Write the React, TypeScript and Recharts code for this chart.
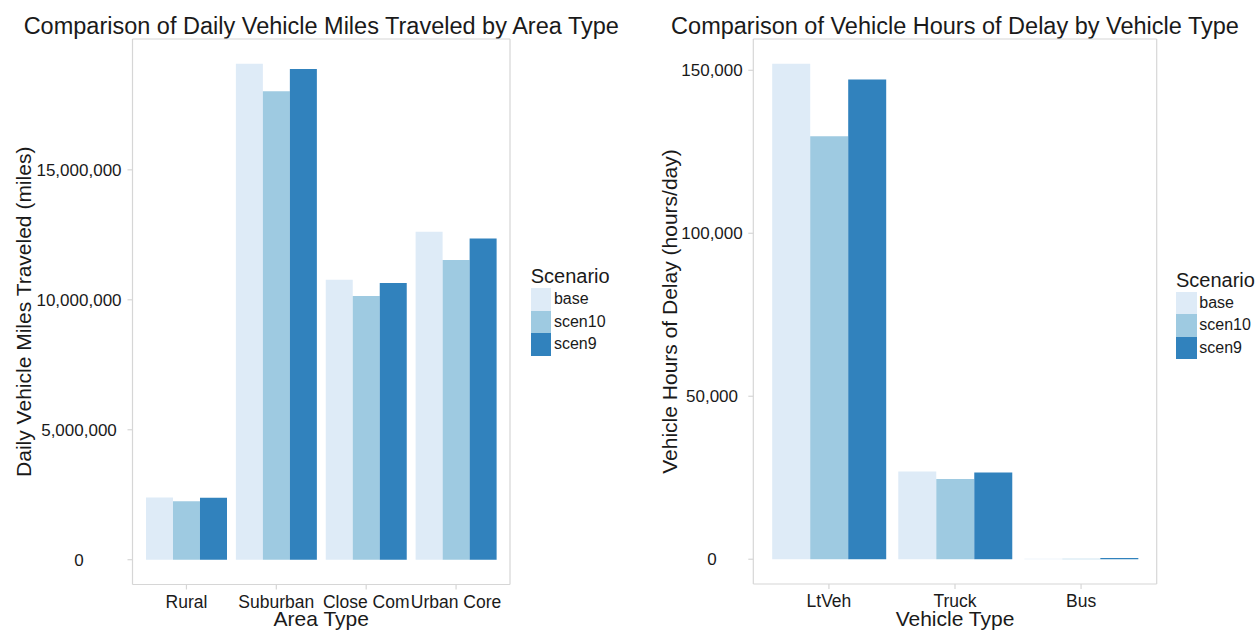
import React from 'react';
import { BarChart, Bar, XAxis, YAxis, CartesianGrid, Legend, Label } from 'recharts';

// ---- shared series ----
const scenarioKeys = ['base', 'scen10', 'scen9'];
const scenarioColors = ['#DEEBF7', '#9ECAE1', '#3182BD'];

// ---- left chart: daily VMT by area type ----
const areaTypes = ['Rural', 'Suburban', 'Close Com', 'Urban Core'];
const vmtBase = [2390000, 19080000, 10770000, 12620000];
const vmtScen10 = [2250000, 18020000, 10150000, 11530000];
const vmtScen9 = [2380000, 18880000, 10650000, 12360000];
const vmtTicks = [0, 5000000, 10000000, 15000000];

// ---- right chart: vehicle hours of delay by vehicle type ----
const vehicleTypes = ['LtVeh', 'Truck', 'Bus'];
const vhdBase = [152000, 26900, 150];
const vhdScen10 = [129800, 24600, 120];
const vhdScen9 = [147200, 26600, 400];
const vhdTicks = [0, 50000, 100000, 150000];

const vmtData = areaTypes.map((c, i) => ({ cat: c, base: vmtBase[i], scen10: vmtScen10[i], scen9: vmtScen9[i] }));
const vhdData = vehicleTypes.map((c, i) => ({ cat: c, base: vhdBase[i], scen10: vhdScen10[i], scen9: vhdScen9[i] }));

const expandDomain = (vals: number[]) => {
  const mx = Math.max(...vals);
  const pad = mx * 0.05;
  return [-pad, mx + pad];
};

const FONT = '"Liberation Sans", Arial, Helvetica, sans-serif';
const TEXT = '#1a1a1a';
const BORDER = '#D6D6D6';

const fmt = (v: number) => v.toLocaleString('en-US');

const makeYTick = (shift: number) => (props: any) => {
  const { x, y, payload } = props;
  return (
    <text x={x - shift} y={y} dy="0.36em" textAnchor="middle" fontSize={17} fontFamily={FONT} fill={TEXT}>
      {fmt(payload.value)}
    </text>
  );
};

const XTick = (props: any) => {
  const { x, y, payload } = props;
  return (
    <text x={x} y={y} dy={16} textAnchor="middle" fontSize={17.5} fontFamily={FONT} fill={TEXT}>
      {payload.value}
    </text>
  );
};

const makeYTitle = (cx: number, text: string) => (props: any) => {
  const vb = props.viewBox || {};
  const cy = (vb.y || 0) + (vb.height || 0) / 2;
  return (
    <text
      x={cx}
      y={cy}
      dy="0.35em"
      transform={`rotate(-90 ${cx} ${cy})`}
      textAnchor="middle"
      fontSize={21}
      fontFamily={FONT}
      fill={TEXT}
    >
      {text}
    </text>
  );
};

const LegendBox = (props: any) => {
  const payload = props.payload || [];
  return (
    <div style={{ fontFamily: FONT, color: TEXT }}>
      <div style={{ fontSize: 20, lineHeight: '20px', height: 20, marginBottom: 2, whiteSpace: 'nowrap' }}>Scenario</div>
      {payload.map((p: any) => (
        <div key={p.value} style={{ display: 'flex', alignItems: 'center', height: 22.4 }}>
          <div style={{ width: 20.7, height: 22.4, background: p.color }} />
          <span style={{ fontSize: 16, lineHeight: '22.4px', marginLeft: 2.6, whiteSpace: 'nowrap' }}>{p.value}</span>
        </div>
      ))}
    </div>
  );
};

const borderH = ({ offset }: any) => [offset.top, offset.top + offset.height];
const borderV = ({ offset }: any) => [offset.left, offset.left + offset.width];

const Title = ({ text, center }: { text: string; center: number }) => (
  <div
    style={{
      position: 'absolute',
      left: center - 400,
      width: 800,
      top: 14.6,
      textAlign: 'center',
      fontSize: 23.5,
      lineHeight: '23.5px',
      fontFamily: FONT,
      color: TEXT,
      whiteSpace: 'nowrap',
    }}
  >
    {text}
  </div>
);

export default function App() {
  const vmtDomain = expandDomain([...vmtBase, ...vmtScen10, ...vmtScen9]);
  const vhdDomain = expandDomain([...vhdBase, ...vhdScen10, ...vhdScen9]);

  return (
    <div style={{ position: 'absolute', left: 0, top: 0, width: 1260, height: 630, background: '#fff', overflow: 'hidden' }}>
      <Title text="Comparison of Daily Vehicle Miles Traveled by Area Type" center={321.25} />
      <Title text="Comparison of Vehicle Hours of Delay by Vehicle Type" center={955} />

      <div style={{ position: 'absolute', left: 0, top: 0 }}>
        <BarChart
          width={640}
          height={630}
          data={vmtData}
          margin={{ top: 39, right: 130, bottom: 0, left: 0 }}
          barCategoryGap="5%"
          barGap={0}
        >
          <CartesianGrid
            stroke={BORDER}
            strokeWidth={1.2}
            horizontalCoordinatesGenerator={borderH}
            verticalCoordinatesGenerator={borderV}
          />
          <XAxis
            dataKey="cat"
            type="category"
            height={45.5}
            interval={0}
            padding={{ left: 9, right: 9 }}
            axisLine={false}
            tickLine={{ stroke: BORDER, strokeWidth: 1.2 }}
            tickSize={5}
            tick={XTick}
          >
            <Label value="Area Type" position="insideBottom" offset={4} fontSize={21} fontFamily={FONT} fill={TEXT} />
          </XAxis>
          <YAxis
            type="number"
            width={132.5}
            domain={vmtDomain}
            allowDataOverflow
            ticks={vmtTicks}
            interval={0}
            axisLine={false}
            tickLine={{ stroke: BORDER, strokeWidth: 1.2 }}
            tickSize={5}
            tick={makeYTick(46.5)}
          >
            <Label content={makeYTitle(24, 'Daily Vehicle Miles Traveled (miles)')} />
          </YAxis>
          {scenarioKeys.map((k, i) => (
            <Bar key={k} dataKey={k} name={k} fill={scenarioColors[i]} isAnimationActive={false} />
          ))}
          <Legend
            layout="vertical"
            align="center"
            verticalAlign="middle"
            content={LegendBox}
            wrapperStyle={{ left: 530.7, top: 266.4, width: 'auto' }}
          />
        </BarChart>
      </div>

      <div style={{ position: 'absolute', left: 640, top: 0 }}>
        <BarChart
          width={620}
          height={630}
          data={vhdData}
          margin={{ top: 39, right: 103.3, bottom: 0, left: 0 }}
          barCategoryGap="5%"
          barGap={0}
        >
          <CartesianGrid
            stroke={BORDER}
            strokeWidth={1.2}
            horizontalCoordinatesGenerator={borderH}
            verticalCoordinatesGenerator={borderV}
          />
          <XAxis
            dataKey="cat"
            type="category"
            height={46}
            interval={0}
            padding={{ left: 12.6, right: 12.6 }}
            axisLine={false}
            tickLine={{ stroke: BORDER, strokeWidth: 1.2 }}
            tickSize={5}
            tick={XTick}
          >
            <Label value="Vehicle Type" position="insideBottom" offset={4} fontSize={21} fontFamily={FONT} fill={TEXT} />
          </XAxis>
          <YAxis
            type="number"
            width={113.3}
            domain={vhdDomain}
            allowDataOverflow
            ticks={vhdTicks}
            interval={0}
            axisLine={false}
            tickLine={{ stroke: BORDER, strokeWidth: 1.2 }}
            tickSize={5}
            tick={makeYTick(34.3)}
          >
            <Label content={makeYTitle(30, 'Vehicle Hours of Delay (hours/day)')} />
          </YAxis>
          {scenarioKeys.map((k, i) => (
            <Bar key={k} dataKey={k} name={k} fill={scenarioColors[i]} isAnimationActive={false} />
          ))}
          <Legend
            layout="vertical"
            align="center"
            verticalAlign="middle"
            content={LegendBox}
            wrapperStyle={{ left: 536, top: 269.8, width: 'auto' }}
          />
        </BarChart>
      </div>
    </div>
  );
}
